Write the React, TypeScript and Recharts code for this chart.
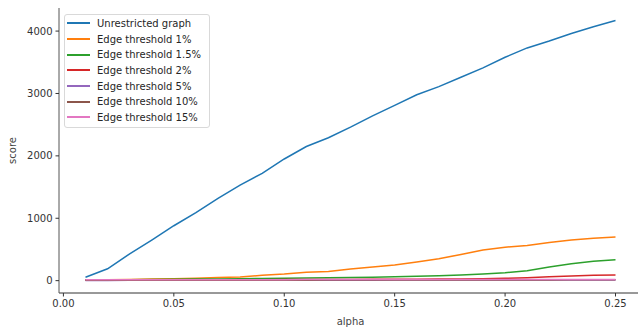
import { LineChart, Line, XAxis, YAxis, Label } from "recharts";

const alphas = [
  0.01, 0.02, 0.03, 0.04, 0.05, 0.06, 0.07, 0.08, 0.09, 0.1, 0.11, 0.12, 0.13,
  0.14, 0.15, 0.16, 0.17, 0.18, 0.19, 0.2, 0.21, 0.22, 0.23, 0.24, 0.25,
];

const unrestricted = [
  55, 190, 430, 650, 880, 1090, 1320, 1530, 1720, 1950, 2150, 2290, 2460,
  2640, 2810, 2980, 3110, 3260, 3410, 3580, 3730, 3840, 3960, 4070, 4170,
];
const edge1 = [
  10, 15, 20, 25, 30, 40, 50, 60, 85, 105, 135, 145, 185, 220, 250, 300, 350,
  420, 490, 535, 565, 610, 650, 680, 700,
];
const edge15 = [
  10, 12, 15, 18, 22, 25, 28, 32, 36, 40, 44, 48, 52, 56, 62, 70, 80, 92, 105,
  125, 160, 220, 270, 310, 335,
];
const edge2 = [
  8, 9, 10, 11, 12, 13, 14, 15, 16, 17, 18, 19, 20, 21, 22, 23, 25, 28, 32, 38,
  48, 62, 76, 86, 90,
];
const edge5 = [
  4, 4, 5, 5, 5, 6, 6, 6, 7, 7, 7, 8, 8, 8, 9, 9, 9, 10, 10, 10, 11, 11, 12, 12,
  12,
];
const edge10 = [
  5, 5, 6, 6, 6, 7, 7, 7, 8, 8, 8, 9, 9, 9, 10, 10, 10, 11, 11, 11, 12, 12, 13,
  13, 13,
];
const edge15pct = [
  15, 15, 15, 15, 15, 16, 16, 16, 16, 16, 17, 17, 17, 17, 17, 18, 18, 18, 18,
  18, 19, 19, 19, 19, 20,
];

const xTicks = [0, 0.05, 0.1, 0.15, 0.2, 0.25];
const yTicks = [0, 1000, 2000, 3000, 4000];

const series = [
  { key: "u", name: "Unrestricted graph", values: unrestricted, color: "#1f77b4" },
  { key: "e1", name: "Edge threshold 1%", values: edge1, color: "#ff7f0e" },
  { key: "e15", name: "Edge threshold 1.5%", values: edge15, color: "#2ca02c" },
  { key: "e2", name: "Edge threshold 2%", values: edge2, color: "#d62728" },
  { key: "e5", name: "Edge threshold 5%", values: edge5, color: "#9467bd" },
  { key: "e10", name: "Edge threshold 10%", values: edge10, color: "#8c564b" },
  { key: "e15p", name: "Edge threshold 15%", values: edge15pct, color: "#e377c2" },
];

const data = alphas.map((a, i) => {
  const row: Record<string, number> = { alpha: a };
  series.forEach((s) => (row[s.key] = s.values[i]));
  return row;
});

const FONT = "'DejaVu Sans', sans-serif";

// legend box drawn as an overlay so it doesn't shrink the plot area
const LegendBox = () => (
  <div
    style={{
      position: "absolute",
      left: 64,
      top: 14,
      boxSizing: "border-box",
      width: 146,
      height: 114,
      border: "1px solid #d9d9d9",
      borderRadius: 3,
      background: "rgba(255,255,255,0.8)",
      padding: "0.5px 0 0 2px",
      fontFamily: FONT,
      fontSize: 10,
      color: "#262626",
    }}
  >
    {series.map((s) => (
      <div key={s.key} style={{ display: "flex", alignItems: "center", height: 15.7 }}>
        <span
          style={{
            display: "inline-block",
            width: 23,
            height: 2,
            background: s.color,
            marginRight: 7,
          }}
        />
        <span style={{ whiteSpace: "nowrap" }}>{s.name}</span>
      </div>
    ))}
  </div>
);

export default function App() {
  return (
    <div
      style={{
        position: "absolute",
        left: 0,
        top: 0,
        width: 638,
        height: 327,
        overflow: "hidden",
        background: "#fff",
      }}
    >
      <LineChart
        width={645}
        height={327}
        data={data}
        margin={{ top: 8, right: 3, left: 0, bottom: 0 }}
      >
        <XAxis
          dataKey="alpha"
          type="number"
          domain={[-0.002, 0.262]}
          ticks={xTicks}
          tickFormatter={(v: number) => v.toFixed(2)}
          height={34}
          tickSize={3.5}
          tickMargin={3}
          axisLine={{ stroke: "#333", strokeWidth: 1 }}
          tickLine={{ stroke: "#333" }}
          tick={{ fill: "#333", fontSize: 10, fontFamily: FONT }}
          allowDataOverflow
        >
          <Label
            value="alpha"
            position="insideBottom"
            offset={2}
            style={{ fill: "#444", fontSize: 10, fontFamily: FONT }}
          />
        </XAxis>
        <XAxis
          xAxisId="top"
          orientation="top"
          dataKey="alpha"
          type="number"
          domain={[-0.002, 0.262]}
          height={0}
          tick={false}
          tickLine={false}
          axisLine={{ stroke: "#aaa", strokeWidth: 1 }}
        />
        <YAxis
          type="number"
          domain={[-198, 4370]}
          ticks={yTicks}
          width={59}
          tickSize={3.5}
          tickMargin={3}
          axisLine={{ stroke: "#555", strokeWidth: 1 }}
          tickLine={{ stroke: "#333" }}
          tick={{ fill: "#333", fontSize: 10, fontFamily: FONT }}
          allowDataOverflow
        >
          <Label
            value="score"
            angle={-90}
            position="insideLeft"
            offset={12}
            style={{ fill: "#444", fontSize: 10, fontFamily: FONT, textAnchor: "middle" }}
          />
        </YAxis>
        {series.map((s) => (
          <Line
            key={s.key}
            dataKey={s.key}
            name={s.name}
            stroke={s.color}
            strokeWidth={1.5}
            dot={false}
            activeDot={false}
            isAnimationActive={false}
          />
        ))}
      </LineChart>
      <LegendBox />
    </div>
  );
}
